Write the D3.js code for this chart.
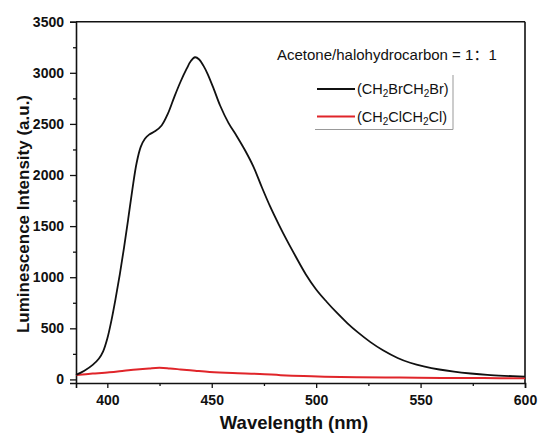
<!DOCTYPE html>
<html>
<head>
<meta charset="utf-8">
<script src="https://cdn.jsdelivr.net/npm/d3@7/dist/d3.min.js"></script>
<style>
  html, body { margin: 0; padding: 0; background: #fff; }
  svg { display: block; font-family: "Liberation Sans", Arial, "Noto Sans CJK SC", sans-serif; }
</style>
</head>
<body>
<svg id="chart" width="539" height="434"></svg>
<script>
// Emission spectra: wavelength (nm) and luminescence intensity (a.u.)
const brWavelength = [385, 389, 393, 396, 398, 400, 402, 404, 406, 408, 410, 412, 414, 416, 418, 420, 423, 426, 429, 432, 435, 438, 440, 442, 444, 446, 448, 451, 454, 458, 462, 466, 470, 474, 478, 482, 486, 490, 495, 500, 505, 510, 515, 520, 526, 532, 539, 545, 552, 559, 566, 574, 582, 590, 600];
const brIntensity  = [44, 85, 142, 205, 275, 400, 580, 795, 1030, 1290, 1570, 1860, 2115, 2275, 2355, 2395, 2430, 2485, 2600, 2760, 2910, 3040, 3115, 3152, 3130, 3070, 2990, 2840, 2680, 2510, 2380, 2240, 2080, 1880, 1690, 1520, 1360, 1210, 1030, 880, 760, 650, 549, 460, 365, 285, 210, 163, 125, 97, 76, 58, 44, 35, 27];

const clWavelength = [385, 393, 401, 408, 414, 420, 425, 430, 435, 442, 449, 460, 473, 483, 494, 504, 520, 540, 560, 580, 600];
const clIntensity  = [44, 57, 70, 85, 98, 108, 114, 107, 98, 85, 73, 62, 54, 42, 33, 27, 22, 18, 15, 13, 11];

const seriesNames = ["Br", "Cl"];
const xTicks = [400, 450, 500, 550, 600];
const yTicks = [0, 500, 1000, 1500, 2000, 2500, 3000, 3500];
const xTitle = "Wavelength (nm)";
const yTitle = "Luminescence Intensity (a.u.)";
const heading = "Acetone/halohydrocarbon = 1\uFF1A1";

const svg = d3.select("#chart");
const W = 539, H = 434;
const margin = { top: 21.7, right: 14, bottom: 51, left: 76 };
const pw = W - margin.left - margin.right;
const ph = H - margin.top - margin.bottom;

const x = d3.scaleLinear().domain([385, 600]).range([0, pw]);
const y = d3.scaleLinear().domain([-35, 3500]).range([ph, 0]);

const g = svg.append("g").attr("transform", `translate(${margin.left},${margin.top})`);

// axes with minor ticks
const xMinor = d3.range(400, 601, 25).filter(v => !xTicks.includes(v));
const yMinor = d3.range(250, 3500, 500);

const xAxis = g.append("g").attr("transform", `translate(0,${ph})`)
  .call(d3.axisBottom(x).tickValues(xTicks).tickSize(5).tickPadding(3).tickFormat(d3.format("d")));
g.append("g").attr("transform", `translate(0,${ph})`)
  .call(d3.axisBottom(x).tickValues(xMinor).tickSize(3).tickFormat(""))
  .call(a => a.select(".domain").remove());

const yAxis = g.append("g")
  .call(d3.axisLeft(y).tickValues(yTicks).tickSize(6).tickPadding(6).tickFormat(d3.format("d")));
g.append("g")
  .call(d3.axisLeft(y).tickValues(yMinor).tickSize(3).tickFormat(""))
  .call(a => a.select(".domain").remove());

g.selectAll(".tick line").attr("stroke", "#111").attr("stroke-width", 1.3);
g.selectAll(".domain").attr("stroke", "#111").attr("stroke-width", 1.6);
g.selectAll(".tick text")
  .attr("font-size", "14px").attr("font-weight", "bold").attr("fill", "#111")
  .attr("font-family", "'Liberation Sans', Arial, sans-serif");
xAxis.selectAll(".tick text").attr("dy", "1.0em");

// frame (top and right)
g.append("line").attr("x1", 0).attr("x2", pw).attr("y1", 0).attr("y2", 0)
  .attr("stroke", "#111").attr("stroke-width", 1.6);
g.append("line").attr("x1", pw).attr("x2", pw).attr("y1", 0).attr("y2", ph)
  .attr("stroke", "#111").attr("stroke-width", 1.6);

// spectra
const line = d3.line()
  .x(d => x(d[0]))
  .y(d => y(d[1]))
  .curve(d3.curveCatmullRom.alpha(0.5));

const brData = d3.zip(brWavelength, brIntensity);
const clData = d3.zip(clWavelength, clIntensity);

g.append("path").datum(clData).attr("d", line)
  .attr("fill", "none").attr("stroke", "#e0252a").attr("stroke-width", 2);
g.append("path").datum(brData).attr("d", line)
  .attr("fill", "none").attr("stroke", "#111").attr("stroke-width", 1.8);

// axis titles
svg.append("text")
  .attr("x", 294).attr("y", 429)
  .attr("text-anchor", "middle")
  .attr("font-size", "18.5px").attr("font-weight", "bold").attr("fill", "#111")
  .text(xTitle);

svg.append("text")
  .attr("transform", "translate(29,214) rotate(-90)")
  .attr("text-anchor", "middle")
  .attr("font-size", "17px").attr("font-weight", "bold").attr("fill", "#111")
  .text(yTitle);

// heading and legend
svg.append("text")
  .attr("x", 277).attr("y", 60)
  .attr("font-size", "15px").attr("fill", "#111")
  .text(heading);

const legend = svg.append("g");
legend.append("line").attr("x1", 453).attr("x2", 453).attr("y1", 75).attr("y2", 129.5)
  .attr("stroke", "#999").attr("stroke-width", 1);
legend.append("line").attr("x1", 315).attr("x2", 453).attr("y1", 129.5).attr("y2", 129.5)
  .attr("stroke", "#999").attr("stroke-width", 1);

const legendItems = [
  { name: seriesNames[0], color: "#111", parts: ["(CH", "2", "BrCH", "2", "Br)"], y: 89 },
  { name: seriesNames[1], color: "#e0252a", parts: ["(CH", "2", "ClCH", "2", "Cl)"], y: 116.5 }
];
legendItems.forEach(it => {
  legend.append("line").attr("x1", 317).attr("x2", 355).attr("y1", it.y).attr("y2", it.y)
    .attr("stroke", it.color).attr("stroke-width", 2);
  const t = legend.append("text").attr("x", 357).attr("y", it.y + 5)
    .attr("font-size", "14.5px").attr("fill", "#111");
  it.parts.forEach((p, i) => {
    const sub = i % 2 === 1;
    t.append("tspan")
      .attr("font-size", sub ? "10px" : "14.5px")
      .attr("dy", sub ? 3 : (i === 0 ? 0 : -3))
      .text(p);
  });
});
</script>
</body>
</html>
